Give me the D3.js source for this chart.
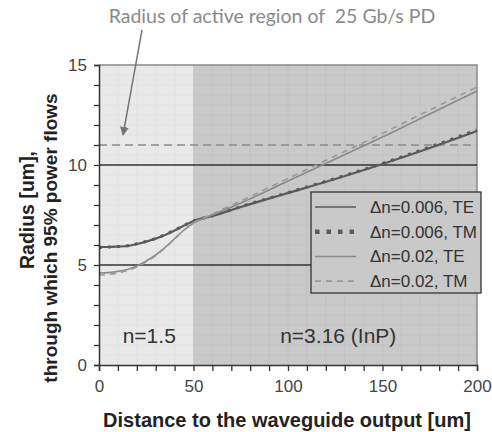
<!DOCTYPE html>
<html>
<head>
<meta charset="utf-8">
<script src="https://cdn.jsdelivr.net/npm/d3@7"></script>
<style>
body{margin:0;background:#fff;}
</style>
</head>
<body>
<script>
// distance to the waveguide output [um]
var xs = [0, 5, 10, 15, 20, 25, 30, 35, 40, 45, 50, 60, 75, 100, 125, 150, 175, 200];
// radius [um] for each mode
var te006 = [5.9, 5.9, 5.92, 5.95, 6.05, 6.17, 6.32, 6.5, 6.72, 6.97, 7.2, 7.45, 7.9, 8.6, 9.3, 10.05, 10.85, 11.7];
var tm006 = [5.88, 5.9, 5.92, 5.96, 6.06, 6.18, 6.33, 6.52, 6.74, 6.98, 7.2, 7.46, 7.92, 8.62, 9.33, 10.08, 10.9, 11.75];
var te002 = [4.6, 4.62, 4.68, 4.78, 4.95, 5.2, 5.5, 5.88, 6.32, 6.75, 7.1, 7.5, 8.1, 9.2, 10.3, 11.4, 12.55, 13.7];
var tm002 = [4.5, 4.53, 4.6, 4.72, 4.9, 5.16, 5.47, 5.86, 6.3, 6.74, 7.1, 7.55, 8.2, 9.33, 10.45, 11.58, 12.75, 13.9];
var legendLabels = ["\u0394n=0.006, TE", "\u0394n=0.006, TM", "\u0394n=0.02, TE", "\u0394n=0.02, TM"];
var xTickLabels = [0, 50, 100, 150, 200];
var yTickLabels = [0, 5, 10, 15];
var regions = [[0, 50, "n=1.5"], [50, 200, "n=3.16 (InP)"]];
var refLines = [5, 10];
var pdRadius = 11;

var FONT = "'Liberation Sans', Arial, sans-serif";
var W = 492, H = 432;
var x = d3.scaleLinear().domain([0, 200]).range([99, 477]);
var y = d3.scaleLinear().domain([0, 15]).range([365, 65]);

var svg = d3.select("body").append("svg").attr("width", W).attr("height", H)
	.style("font-family", FONT);

// shaded regions
svg.selectAll("rect.reg").data(regions).enter().append("rect")
	.attr("x", function(d){ return x(d[0]); })
	.attr("y", y(15))
	.attr("width", function(d){ return x(d[1]) - x(d[0]); })
	.attr("height", y(0) - y(15))
	.attr("fill", function(d, i){ return i == 0 ? "#e9e9e9" : "#c9c9c9"; });

// faint texture grid
var g = svg.append("g").attr("stroke-width", 0.6);
d3.range(10, 200, 10).forEach(function(v){
	g.append("line").attr("x1", x(v)).attr("x2", x(v)).attr("y1", y(0)).attr("y2", y(15))
		.attr("stroke", v < 50 ? "#dedede" : "#bdbdbd");
});
d3.range(0.5, 15, 0.5).forEach(function(v){
	g.append("line").attr("x1", x(0)).attr("x2", x(50)).attr("y1", y(v)).attr("y2", y(v)).attr("stroke", "#e1e1e1");
	g.append("line").attr("x1", x(50)).attr("x2", x(200)).attr("y1", y(v)).attr("y2", y(v)).attr("stroke", "#c1c1c1");
});

// top & right border
svg.append("path")
	.attr("d", "M" + x(0) + "," + y(15) + "H" + x(200) + "V" + y(0))
	.attr("fill", "none").attr("stroke", "#8a8a8a").attr("stroke-width", 1.5);

// region labels
svg.selectAll("text.reg").data(regions).enter().append("text")
	.attr("x", function(d){ return (x(d[0]) + x(d[1])) / 2 + 3; })
	.attr("y", 343)
	.attr("text-anchor", "middle")
	.attr("font-size", 21)
	.attr("fill", "#333")
	.text(function(d){ return d[2]; });

// reference lines
svg.selectAll("line.ref").data(refLines).enter().append("line")
	.attr("x1", x(0)).attr("x2", x(200))
	.attr("y1", function(d){ return y(d); }).attr("y2", function(d){ return y(d); })
	.attr("stroke", "#333").attr("stroke-width", 1.5);
svg.append("line")
	.attr("x1", x(0)).attr("x2", x(200)).attr("y1", y(pdRadius)).attr("y2", y(pdRadius))
	.attr("stroke", "#8c8c8c").attr("stroke-width", 1.5).attr("stroke-dasharray", "8,5");

// curves
var line = d3.line()
	.x(function(d, i){ return x(xs[i]); })
	.y(function(d){ return y(d); })
	.curve(d3.curveMonotoneX);
var series = [
	{v: te006, c: "#5a5a5a", w: 2.2, dash: null, lw: 1.5},
	{v: tm006, c: "#5a5a5a", w: 3, dash: "3,6", lw: 4.5},
	{v: te002, c: "#8a8a8a", w: 1.6, dash: null, lw: 1.5},
	{v: tm002, c: "#999", w: 1.6, dash: "6,5", lw: 1.6}
];
series.forEach(function(s){
	svg.append("path").attr("d", line(s.v))
		.attr("fill", "none").attr("stroke", s.c).attr("stroke-width", s.w)
		.attr("stroke-dasharray", s.dash);
});

// axes
var xAxis = d3.axisBottom(x).tickValues(d3.range(0, 201, 10)).tickSize(6).tickPadding(9)
	.tickFormat(function(d){ return xTickLabels.indexOf(d) >= 0 ? d : ""; });
var gx = svg.append("g").attr("transform", "translate(0," + y(0) + ")").call(xAxis);
var yAxis = d3.axisLeft(y).tickValues(d3.range(0, 16, 1)).tickSize(5).tickPadding(7)
	.tickFormat(function(d){ return yTickLabels.indexOf(d) >= 0 ? d : ""; });
var gy = svg.append("g").attr("transform", "translate(" + x(0) + ",0)").call(yAxis);
[gx, gy].forEach(function(a){
	a.attr("font-family", FONT).attr("font-size", 17);
	a.select(".domain").attr("stroke", "#333").attr("stroke-width", 1.5);
	a.selectAll(".tick line").attr("stroke", "#333").attr("stroke-width", 1.3);
	a.selectAll(".tick text").attr("fill", "#444");
});

// legend
var lg = svg.append("g");
lg.append("rect").attr("x", 311).attr("y", 192).attr("width", 170).attr("height", 101)
	.attr("fill", "#c9c9c9").attr("stroke", "#333").attr("stroke-width", 1.3);
legendLabels.forEach(function(t, i){
	var yy = 207 + i * 24.7;
	lg.append("line").attr("x1", 315).attr("x2", 356).attr("y1", yy).attr("y2", yy)
		.attr("stroke", series[i].c).attr("stroke-width", series[i].lw)
		.attr("stroke-dasharray", series[i].dash ? (i == 1 ? "4.5,7" : "6,5") : null);
	lg.append("text").attr("x", 370).attr("y", yy + 6).attr("font-size", 17).attr("fill", "#333").text(t);
});

// axis titles
svg.append("text").attr("x", 287).attr("y", 427).attr("text-anchor", "middle")
	.attr("font-size", 20).attr("font-weight", "bold").attr("fill", "#222")
	.text("Distance to the waveguide output [um]");
svg.append("text").attr("transform", "translate(34,210) rotate(-90)").attr("text-anchor", "middle")
	.attr("font-size", 19.5).attr("font-weight", "bold").attr("fill", "#222")
	.text("Radius [um],");
svg.append("text").attr("transform", "translate(57,238) rotate(-90)").attr("text-anchor", "middle")
	.attr("font-size", 19).attr("font-weight", "bold").attr("fill", "#222")
	.text("through which 95% power flows");

// annotation
svg.append("text").attr("x", 272).attr("y", 23).attr("text-anchor", "middle")
	.attr("font-size", 19.5).attr("fill", "#8a8a8a").style("font-family", "Lato, 'Open Sans', sans-serif")
	.text("Radius of active region of\u00a0 25 Gb/s PD");
svg.append("defs").append("marker").attr("id", "ah").attr("viewBox", "0 0 10 10")
	.attr("refX", 9).attr("refY", 5).attr("markerWidth", 9).attr("markerHeight", 9)
	.attr("markerUnits", "userSpaceOnUse").attr("orient", "auto")
	.append("path").attr("d", "M0,0L10,5L0,10z").attr("fill", "#777");
svg.append("line").attr("x1", 142).attr("y1", 30).attr("x2", 123).attr("y2", y(pdRadius) - 10)
	.attr("stroke", "#777").attr("stroke-width", 1.5).attr("marker-end", "url(#ah)");
</script>
</body>
</html>
